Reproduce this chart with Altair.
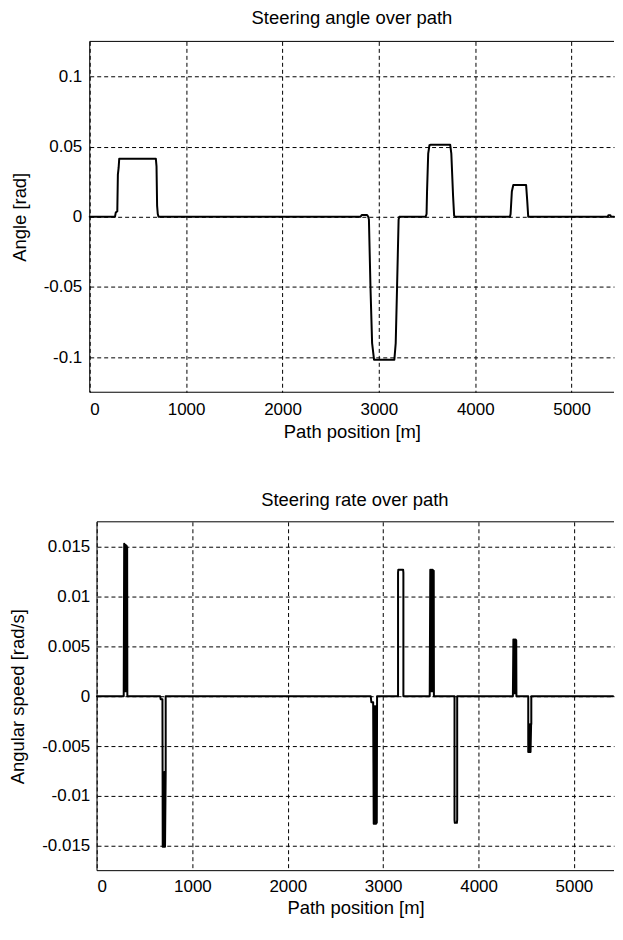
import altair as alt
import pandas as pd

FONT = "Liberation Sans"

# ---- Steering angle over path (rad) ----
angle_x = [0, 262, 270, 286, 292, 300, 306, 686, 693, 699, 706, 714,
           2810, 2822, 2878, 2890, 2897, 2913, 2930, 2950, 3161, 3175, 3189, 3205, 3212,
           3485, 3495, 3500, 3512, 3525, 3540, 3740, 3752, 3770, 3781, 3790,
           4360, 4367, 4380, 4395, 4528, 4540, 4550,
           5375, 5382, 5402, 5410, 5440]
angle_y = [0, 0, 0.003, 0.004, 0.03, 0.035, 0.0414, 0.0414, 0.036, 0.008, 0.002, 0,
           0, 0.0013, 0.0013, 0, -0.002, -0.05, -0.09, -0.1018, -0.1018, -0.09, -0.05, -0.002, 0,
           0, 0.002, 0.018, 0.045, 0.051, 0.0514, 0.0514, 0.045, 0.015, 0.001, 0,
           0, 0.002, 0.018, 0.0227, 0.0227, 0.011, 0,
           0, 0.0012, 0.0012, 0, 0]

# ---- Steering rate over path (rad/s) ----
rate_x = [0, 280, 285, 292, 298, 304, 310, 316, 318,
          662, 668, 686, 689, 695, 701, 707, 713, 720, 720, 730,
          2870, 2876, 2895, 2901, 2907, 2913, 2919, 2925, 2931, 2933, 2936,
          3156, 3156, 3159, 3209, 3212, 3212,
          3488, 3494, 3500, 3506, 3512, 3518, 3524, 3530, 3532,
          3748, 3748, 3751, 3773, 3776, 3776,
          4360, 4365, 4371, 4377, 4383, 4389, 4395, 4397,
          4521, 4521, 4527, 4533, 4539, 4545, 4551, 4553, 4553,
          5410]
rate_y = [0, 0, 0.0153, 0.0005, 0.0152, 0.0005, 0.0151, 0.0149, 0,
          0, -0.0003, -0.0003, -0.0151, -0.0076, -0.0151, -0.0076, -0.0151, -0.0076, 0, 0,
          0, -0.0006, -0.0006, -0.0128, -0.001, -0.0128, -0.001, -0.0128, -0.001, -0.0127, 0,
          0, 0.0124, 0.0127, 0.0127, 0.0124, 0,
          0, 0.0127, 0.0005, 0.0127, 0.0005, 0.0127, 0.0005, 0.0126, 0,
          0, -0.0124, -0.0127, -0.0127, -0.0124, 0,
          0, 0.0057, 0.0003, 0.0057, 0.0003, 0.0057, 0.0056, 0,
          0, -0.0056, -0.0028, -0.0056, -0.0028, -0.0056, -0.0028, -0.0028, 0,
          0]

x_ticks = [0, 1000, 2000, 3000, 4000, 5000]
angle_ticks = [-0.1, -0.05, 0, 0.05, 0.1]
rate_ticks = [-0.015, -0.01, -0.005, 0, 0.005, 0.01, 0.015]

df_angle = pd.DataFrame({"x": angle_x, "y": angle_y, "i": list(range(len(angle_x)))})
df_rate = pd.DataFrame({"x": rate_x, "y": rate_y, "i": list(range(len(rate_x)))})
one = pd.DataFrame({"d": [0]})


def panel(df, title, ytitle, yticks, ydom, xdom, width, height, xrange,
          y_extent, y_lab_pad, y_title_pad, title_offset, title_dx,
          x_lab_pad, x_title_pad):
    xs = alt.Scale(domain=xdom, nice=False, zero=False, range=xrange)
    ys = alt.Scale(domain=ydom, nice=False, zero=False)
    xa = alt.Axis(values=x_ticks, format="d", title="Path position [m]",
                  ticks=False, domain=False, labelPadding=x_lab_pad,
                  titlePadding=x_title_pad)
    ya = alt.Axis(values=yticks, labelExpr="'' + datum.value", title=ytitle,
                  ticks=False, domain=False, labelPadding=y_lab_pad,
                  minExtent=y_extent, maxExtent=y_extent,
                  titlePadding=y_title_pad)
    line = alt.Chart(df).mark_line(
        color="black", strokeWidth=2, strokeJoin="round", strokeCap="round"
    ).encode(
        x=alt.X("x:Q", scale=xs, axis=xa, title="Path position [m]"),
        y=alt.Y("y:Q", scale=ys, axis=ya, title=ytitle),
        order=alt.Order("i:Q"),
    )
    frame_style = dict(color="black", strokeWidth=1)
    left = alt.Chart(one).mark_rule(**frame_style).encode(
        x=alt.X(datum=xdom[0], scale=xs, axis=xa, title="Path position [m]"),
        y=alt.Y(datum=ydom[0], scale=ys, axis=ya, title=ytitle),
        y2=alt.Y2(datum=ydom[1]))
    topb = alt.Chart(one).mark_rule(**frame_style).encode(
        x=alt.X(datum=xdom[0], scale=xs, axis=xa, title="Path position [m]"),
        x2=alt.X2(datum=xdom[1]),
        y=alt.Y(datum=ydom[1], scale=ys, axis=ya, title=ytitle))
    botb = alt.Chart(one).mark_rule(**frame_style).encode(
        x=alt.X(datum=xdom[0], scale=xs, axis=xa, title="Path position [m]"),
        x2=alt.X2(datum=xdom[1]),
        y=alt.Y(datum=ydom[0], scale=ys, axis=ya, title=ytitle))
    return alt.layer(line, left, topb, botb).properties(
        width=width, height=height,
        title=alt.TitleParams(title, font=FONT, fontSize=18.5, fontWeight="normal",
                              color="black", anchor="middle", offset=title_offset,
                              dx=title_dx),
    )


top = panel(df_angle, "Steering angle over path", "Angle [rad]", angle_ticks,
            [-0.125, 0.125], [0, 5440], 526, 352, [0, 526],
            47, 8, 13.5, 13, 0, 9, 5)
bottom = panel(df_rate, "Steering rate over path", "Angular speed [rad/s]", rate_ticks,
               [-0.0175, 0.0175], [0, 5420], 526, 350, [7.3, 526],
               48, 0, 14.5, 12, 3, 8, 4)

chart = alt.concat(top, bottom, columns=1, spacing=50).properties(
    padding={"left": 0, "top": 0, "right": 0, "bottom": 0},
    background="white",
).configure_view(
    stroke=None
).configure_axis(
    labelFont=FONT, labelFontSize=17, labelColor="black",
    titleFont=FONT, titleFontSize=18.5, titleFontWeight="normal", titleColor="black",
    grid=True, gridColor="black", gridDash=[4, 3], gridOpacity=1, gridWidth=1,
)

chart.save("out.html", embed_options={"renderer": "svg", "actions": False})
